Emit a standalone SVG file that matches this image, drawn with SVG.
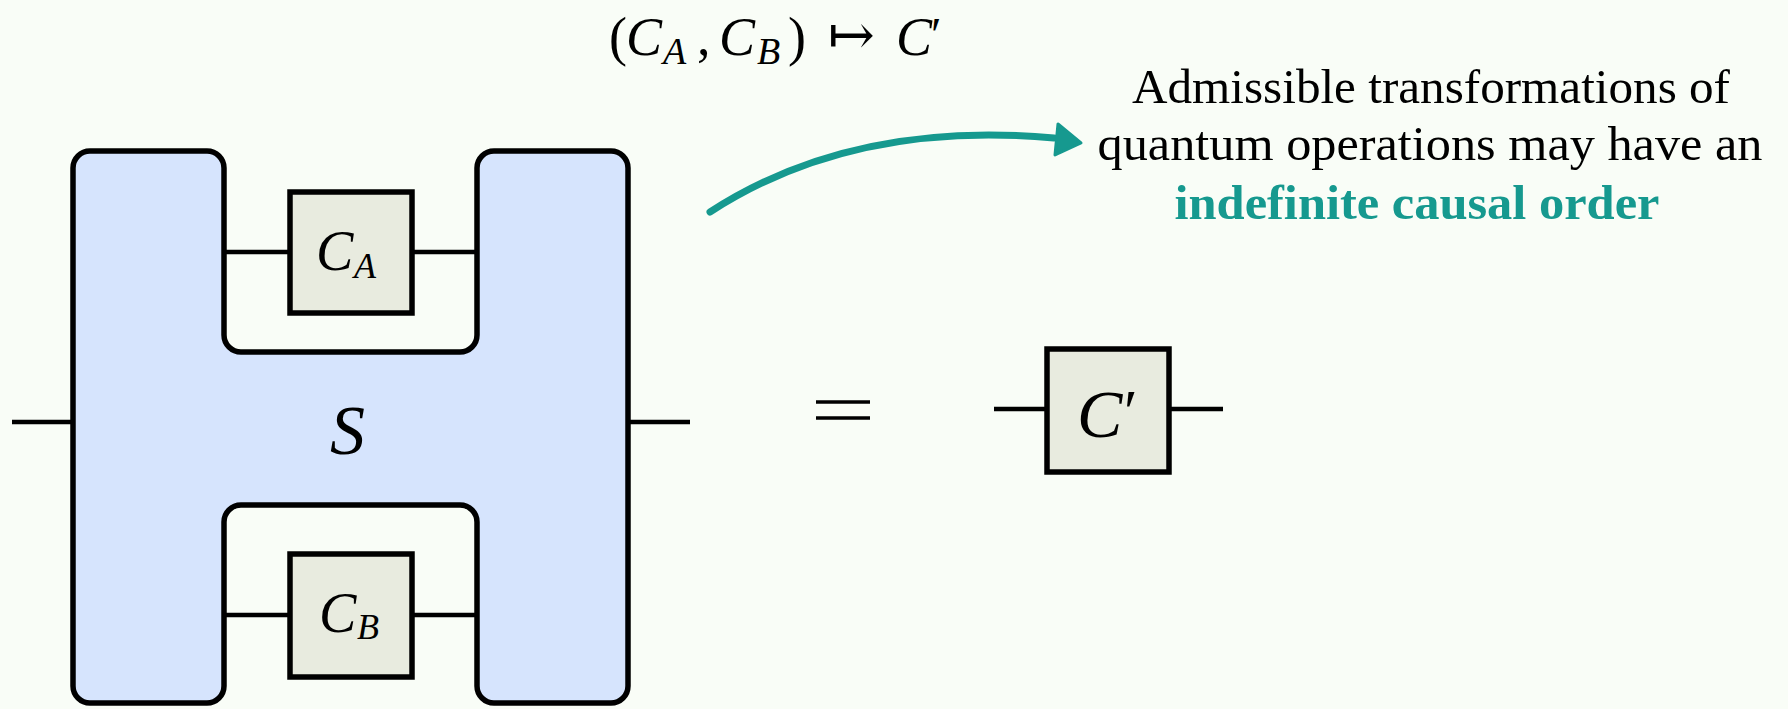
<svg xmlns="http://www.w3.org/2000/svg" width="1788" height="709" viewBox="0 0 1788 709">
<defs>
<style>
.bg{fill:#f9fdf7}
.hshape{fill:#d6e4fd;stroke:#000;stroke-width:5.5;stroke-linejoin:round}
.box{fill:#e8ebdf;stroke:#000;stroke-width:5.5}
.wire{stroke:#000;stroke-width:4.5;fill:none}
.math{font-family:"Liberation Serif","DejaVu Serif",serif;font-style:italic;fill:#000}
.rm{font-family:"Liberation Serif","DejaVu Serif",serif;font-style:normal;fill:#000}
.txt{font-family:"Liberation Serif","DejaVu Serif",serif;font-size:49px;fill:#000;text-anchor:middle}
.hl{fill:#16998f;font-weight:bold}
.teal{stroke:#16998f;stroke-width:7;fill:none;stroke-linecap:round}
</style>
</defs>
<rect class="bg" x="0" y="0" width="1788" height="709"/>

<g id="connectors">
<line class="wire" x1="12" y1="422" x2="73" y2="422"/>
<line class="wire" x1="628" y1="422" x2="690" y2="422"/>
<line class="wire" x1="224" y1="252" x2="290" y2="252"/>
<line class="wire" x1="412" y1="252" x2="477" y2="252"/>
<line class="wire" x1="224" y1="615" x2="290" y2="615"/>
<line class="wire" x1="412" y1="615" x2="477" y2="615"/>
<line class="wire" x1="994" y1="409" x2="1047" y2="409"/>
<line class="wire" x1="1169" y1="409" x2="1223" y2="409"/>
<path class="teal" d="M710,212 C790,160 900,124 1054,138"/>
<polygon points="1081,143 1058,124 1055,155" fill="#16998f" stroke="#16998f" stroke-width="3" stroke-linejoin="round"/>
</g>

<g id="node-S">
<path class="hshape" d="M90,151 H207 A17,17 0 0 1 224,168 V335 A17,17 0 0 0 241,352 H460 A17,17 0 0 0 477,335 V168 A17,17 0 0 1 494,151 H611 A17,17 0 0 1 628,168 V686 A17,17 0 0 1 611,703 H494 A17,17 0 0 1 477,686 V522 A17,17 0 0 0 460,505 H241 A17,17 0 0 0 224,522 V686 A17,17 0 0 1 207,703 H90 A17,17 0 0 1 73,686 V168 A17,17 0 0 1 90,151 Z"/>
<text class="math" x="330" y="454" font-size="70">S</text>
</g>

<g id="node-CA">
<rect class="box" x="290" y="192" width="122" height="121"/>
<text class="math" x="316" y="270" font-size="56">C<tspan font-size="36" x="354" y="278">A</tspan></text>
</g>

<g id="node-CB">
<rect class="box" x="290" y="554" width="122" height="123"/>
<text class="math" x="319" y="632" font-size="56">C<tspan font-size="36" x="357" y="639">B</tspan></text>
</g>

<g id="node-Cprime">
<rect class="box" x="1047" y="349" width="122" height="123"/>
<text class="math" x="1077" y="437" font-size="68">C<tspan class="rm" font-size="62" x="1124" y="432">′</tspan></text>
</g>

<g id="equals">
<line class="wire" x1="816" y1="402" x2="870" y2="402" style="stroke-width:3.5"/>
<line class="wire" x1="816" y1="418" x2="870" y2="418" style="stroke-width:3.5"/>
</g>

<g id="formula">
<text class="rm" x="609" y="55" font-size="54">(</text>
<text class="math" x="626" y="55" font-size="54">C<tspan font-size="38" x="663" y="64">A</tspan></text>
<text class="rm" x="697" y="55" font-size="54">,</text>
<text class="math" x="719" y="55" font-size="54">C<tspan font-size="38" x="757" y="64">B</tspan></text>
<text class="rm" x="788" y="55" font-size="54">)</text>
<text x="828" y="54" font-size="56" font-family="DejaVu Serif, serif">↦</text>
<text class="math" x="896" y="55" font-size="54">C<tspan class="rm" font-size="48" x="931" y="51">′</tspan></text>
</g>

<g id="caption">
<text class="txt" x="1431" y="103" textLength="598" lengthAdjust="spacingAndGlyphs">Admissible transformations of</text>
<text class="txt" x="1430" y="160" textLength="665" lengthAdjust="spacingAndGlyphs">quantum operations may have an</text>
<text class="txt hl" x="1417" y="219" textLength="485" lengthAdjust="spacingAndGlyphs">indefinite causal order</text>
</g>
</svg>
